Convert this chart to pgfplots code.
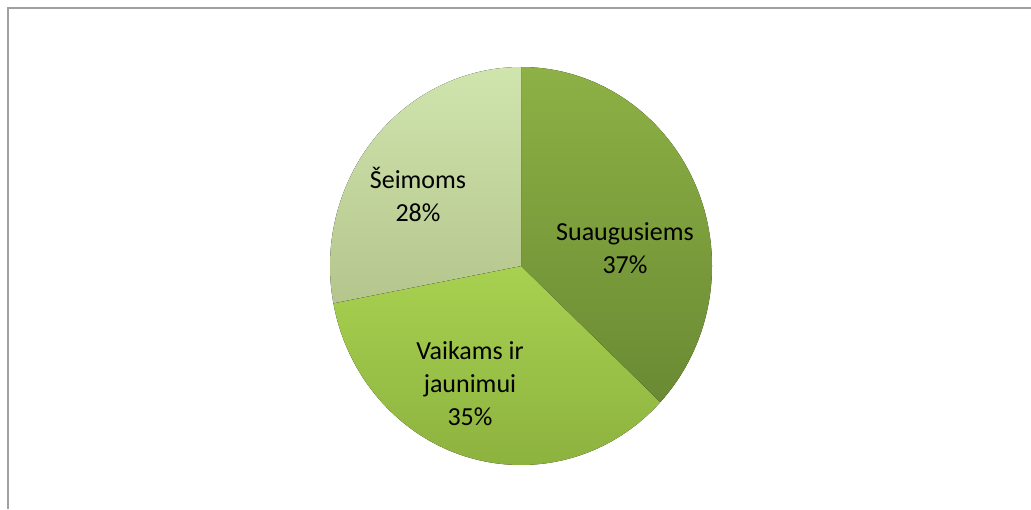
\documentclass[border=0pt]{standalone}
\usepackage{fontspec}
\setmainfont{Carlito}
\usepackage{pgfplots}
\usepackage{pgfplotstable}
\pgfplotsset{compat=1.18}
\definecolor{frameGray}{HTML}{A0A0A0}
\definecolor{adTop}{HTML}{8DB145}
\definecolor{adBot}{HTML}{6A8A33}
\definecolor{kidTop}{HTML}{A8D150}
\definecolor{kidBot}{HTML}{8AAF3D}
\definecolor{famTop}{HTML}{D0E4AE}
\definecolor{famBot}{HTML}{B4C68C}

\pgfplotstableread{
label value
Suaugusiems 37
Vaikams 35
Seimoms 28
}\piedata

\begin{document}
\begin{tikzpicture}
\pgfplotstablegetelem{0}{value}\of\piedata\let\vA\pgfplotsretval
\pgfplotstablegetelem{1}{value}\of\piedata\let\vB\pgfplotsretval
\pgfplotstablegetelem{2}{value}\of\piedata\let\vC\pgfplotsretval
\pgfmathsetmacro\aA{90}
\pgfmathsetmacro\aB{\aA-3.6*\vA}
\pgfmathsetmacro\aC{\aB-3.6*\vB}
\pgfmathsetmacro\aD{\aC-3.6*\vC}
\def\cx{521}\def\cy{266}
\begin{axis}[
  at={(0pt,0pt)}, anchor=south west,
  width=1031pt, height=509pt, scale only axis,
  xmin=0, xmax=1031, ymin=0, ymax=509,
  y dir=reverse,
  hide axis, clip=false,
]
% slices
\fill[top color=adTop, bottom color=adBot]
  (axis cs:\cx,\cy) -- ++(\aA:191pt and 199pt)
  arc[start angle=\aA, end angle=\aB, x radius=191pt, y radius=199pt] -- cycle;
\fill[top color=kidTop, bottom color=kidBot]
  (axis cs:\cx,\cy) -- ++(\aB:191pt and 199pt)
  arc[start angle=\aB, end angle=\aC, x radius=191pt, y radius=199pt] -- cycle;
\fill[top color=famTop, bottom color=famBot]
  (axis cs:\cx,\cy) -- ++(\aC:191pt and 199pt)
  arc[start angle=\aC, end angle=\aD, x radius=191pt, y radius=199pt] -- cycle;
% labels
\node[align=center, font=\fontsize{26}{33}\selectfont] at (axis cs:625,248) {Suaugusiems\\\vA\%};
\node[align=center, font=\fontsize{26}{33}\selectfont] at (axis cs:470,384) {Vaikams ir\\jaunimui\\\vB\%};
\node[align=center, font=\fontsize{26}{33}\selectfont] at (axis cs:418,194) {Šeimoms\\\vC\%};
% chart frame
\draw[frameGray, line width=2pt] (axis cs:8,509) -- (axis cs:8,8) -- (axis cs:1031,8);
\end{axis}
\pgfresetboundingbox
\path[use as bounding box] (0pt,0pt) rectangle (1031pt,509pt);
\end{tikzpicture}
\end{document}
